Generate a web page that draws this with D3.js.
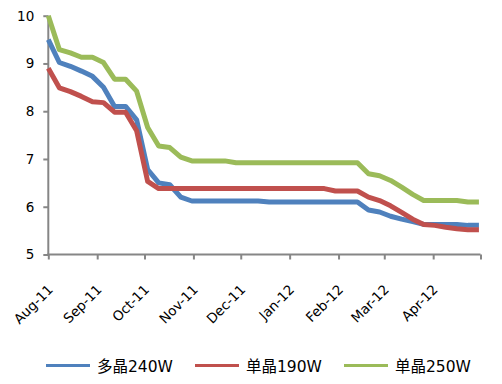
<!DOCTYPE html>
<html><head><meta charset="utf-8">
<script src="https://cdn.jsdelivr.net/npm/d3@7"></script>
<style>
html,body{margin:0;padding:0;background:#fff;}
svg{display:block;}
</style>
</head><body>
<svg id="chart" width="502" height="384"></svg>
<script>
const dates = ["2011-08-01","2011-08-08","2011-08-15","2011-08-22","2011-08-29",
 "2011-09-05","2011-09-12","2011-09-19","2011-09-26",
 "2011-10-03","2011-10-10","2011-10-17","2011-10-24","2011-10-31",
 "2011-11-07","2011-11-14","2011-11-21","2011-11-28",
 "2011-12-05","2011-12-12","2011-12-19","2011-12-26",
 "2012-01-02","2012-01-09","2012-01-16","2012-01-23","2012-01-30",
 "2012-02-06","2012-02-13","2012-02-20","2012-02-27",
 "2012-03-05","2012-03-12","2012-03-19","2012-03-26",
 "2012-04-02","2012-04-09","2012-04-16","2012-04-23","2012-04-30"];
const multi240 = [9.50,9.02,8.94,8.84,8.73,8.50,8.10,8.10,7.82,6.78,6.50,6.46,6.20,6.12,6.12,6.12,6.12,6.12,6.12,6.12,6.10,6.10,6.10,6.10,6.10,6.10,6.10,6.10,6.10,5.93,5.89,5.80,5.74,5.69,5.63,5.63,5.63,5.63,5.61,5.61];
const mono190 = [8.90,8.49,8.41,8.31,8.20,8.18,7.98,7.98,7.59,6.53,6.38,6.38,6.38,6.38,6.38,6.38,6.38,6.38,6.38,6.38,6.38,6.38,6.38,6.38,6.38,6.38,6.33,6.33,6.33,6.20,6.13,6.02,5.88,5.74,5.63,5.61,5.57,5.54,5.52,5.52];
const mono250 = [10.00,9.29,9.22,9.13,9.13,9.02,8.67,8.67,8.42,7.66,7.27,7.24,7.04,6.96,6.96,6.96,6.96,6.92,6.92,6.92,6.92,6.92,6.92,6.92,6.92,6.92,6.92,6.92,6.92,6.69,6.65,6.55,6.41,6.26,6.13,6.13,6.13,6.13,6.10,6.10];
const seriesNames = ["多晶240W","单晶190W","单晶250W"];
const seriesColors = ["#4F81BD","#C0504D","#9BBB59"];
const yTicks = [5,6,7,8,9,10];
const xTickDates = ["2011-08-01","2011-09-01","2011-10-01","2011-11-01","2011-12-01","2012-01-01","2012-02-01","2012-03-01","2012-04-01","2012-05-01"];
const xTickLabels = ["Aug-11","Sep-11","Oct-11","Nov-11","Dec-11","Jan-12","Feb-12","Mar-12","Apr-12",""];

const parse = d3.timeParse("%Y-%m-%d");
const svg = d3.select("#chart");
const x = d3.scaleTime().domain([parse("2011-08-01"), parse("2012-05-01")]).range([48.3, 480.5]);
const y = d3.scaleLinear().domain([5,10]).range([254.5, 15.7]);
const axisColor = "#868686";
const font = "'DejaVu Sans', sans-serif";

// Y axis
const yAxis = svg.append("g").attr("transform","translate(48.3,0)")
  .call(d3.axisLeft(y).tickValues(yTicks).tickSize(5).tickPadding(9).tickFormat(d3.format("d")));
yAxis.select(".domain").attr("stroke",axisColor).attr("stroke-width",2).attr("d",`M0,${y(10)}V${y(5)}`);
yAxis.selectAll(".tick line").attr("stroke",axisColor).attr("stroke-width",2);
yAxis.selectAll(".tick text").attr("font-family",font).attr("font-size",13.5).attr("fill","#000");

// X axis
const xAxis = svg.append("g").attr("transform",`translate(0,${y(5)})`)
  .call(d3.axisBottom(x).tickValues(xTickDates.map(parse)).tickSize(5).tickFormat((d,i)=>xTickLabels[i]));
xAxis.select(".domain").attr("stroke",axisColor).attr("stroke-width",2).attr("d",`M${x.range()[0]-1},0H${x.range()[1]}`);
xAxis.selectAll(".tick line").attr("stroke",axisColor).attr("stroke-width",2);
xAxis.selectAll(".tick text")
  .attr("font-family",font).attr("font-size",13.5).attr("fill","#000")
  .attr("text-anchor","end").attr("dy",0).attr("y",0)
  .attr("transform","translate(5,36) rotate(-45)");

// Lines
const allSeries = [multi240, mono190, mono250];
const line = d3.line().x((d,i)=>x(parse(dates[i]))).y(d=>y(d));
allSeries.forEach((s,k)=>{
  svg.append("path").datum(s).attr("d",line)
    .attr("fill","none").attr("stroke",seriesColors[k]).attr("stroke-width",5)
    .attr("stroke-linejoin","round").attr("stroke-linecap","butt");
});

// Legend
const legendX = [46, 195, 344];
const lg = svg.append("g");
seriesNames.forEach((n,k)=>{
  lg.append("line").attr("x1",legendX[k]).attr("x2",legendX[k]+44)
    .attr("y1",365.5).attr("y2",365.5).attr("stroke",seriesColors[k]).attr("stroke-width",3);
  lg.append("text").attr("x",legendX[k]+51).attr("y",372)
    .attr("font-family","'DejaVu Sans','Noto Sans CJK SC',sans-serif").attr("font-size",15.5)
    .attr("fill","#000").text(n);
});
</script>
</body></html>
